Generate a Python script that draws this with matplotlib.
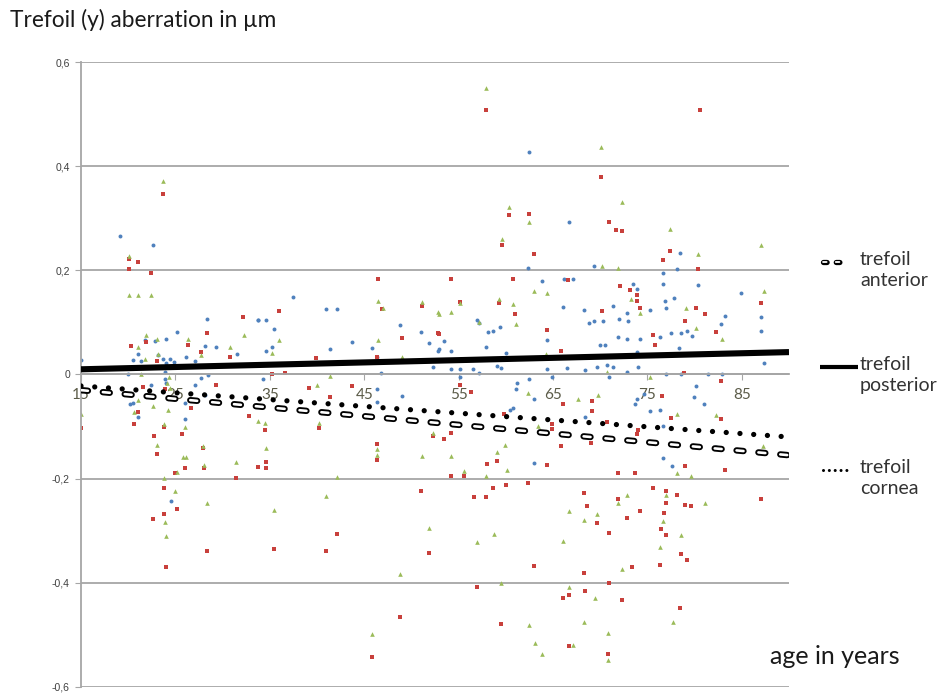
import matplotlib
matplotlib.use("Agg")
import matplotlib.pyplot as plt
import matplotlib.patheffects as pe
from matplotlib.lines import Line2D

# scatter data (age in years, trefoil in µm)
blue_age = [19.1, 22.6, 28.3, 33.8, 25.2, 21.8, 22.8, 24.0, 21.0, 23.2, 20.5, 21.4, 23.7, 24.4, 24.0, 24.8,
            28.1, 29.3, 31.5, 26.1, 27.1, 15.0, 20.0, 23.9, 23.9, 24.0, 22.4, 27.7, 28.5, 27.1, 20.2, 20.5,
            26.0, 28.1, 21.0, 26.0, 24.5,
            37.5, 41.0, 42.1, 33.8, 34.6, 35.4, 34.6, 35.2, 41.4, 43.7, 45.8, 46.4, 48.8, 51.0, 51.9, 52.9,
            52.3, 34.3, 46.8, 46.4, 49.0, 46.4,
            62.5, 66.7, 62.4, 69.3, 63.8, 66.2, 67.1, 66.1, 68.3, 56.9, 57.2, 58.1, 58.6, 59.4, 64.4, 68.8,
            69.3, 70.3, 71.4, 70.0, 70.5, 53.5, 54.2, 52.8, 57.9, 60.0, 54.2, 55.1, 56.5, 57.2, 59.1, 59.5,
            64.4, 66.5, 68.4, 69.7, 70.7, 71.4, 70.9, 55.1, 62.5, 64.9, 61.1, 61.2, 63.0, 60.4, 60.8, 68.4,
            63.0,
            78.5, 73.5, 76.7, 76.7, 78.1, 80.4, 73.9, 76.9, 77.8, 77.0, 83.2, 84.9, 87.0, 87.0, 75.3, 72.8,
            72.0, 72.9, 78.6, 79.2, 79.7, 82.8, 71.9, 72.8, 74.2, 76.3, 77.5, 78.3, 73.9, 87.4, 72.8, 74.0,
            77.0, 78.6, 81.4, 82.9, 80.2, 79.9, 81.0, 76.3, 75.3, 74.6, 73.9, 73.7, 76.7, 82.3, 76.7, 77.6]
blue_val = [0.266, 0.248, 0.107, 0.105, 0.082, 0.066, 0.064, 0.068, 0.039, 0.037, 0.028, 0.026, 0.03, 0.03,
            0.022, 0.024, 0.055, 0.053, 0.039, 0.034, 0.026, 0.028, 0.0, 0.005, -0.009, -0.017, -0.02,
            -0.007, -0.001, -0.02, -0.057, -0.055, -0.055, -0.039, -0.081, -0.086, -0.243,
            0.148, 0.126, 0.126, 0.104, 0.104, 0.088, 0.045, 0.053, 0.049, 0.062, 0.051, 0.033, 0.095,
            0.082, 0.06, 0.049, 0.015, -0.008, 0.003, -0.027, -0.041, -0.053,
            0.427, 0.293, 0.204, 0.209, 0.18, 0.184, 0.184, 0.129, 0.124, 0.105, 0.099, 0.082, 0.084,
            0.091, 0.067, 0.099, 0.103, 0.103, 0.132, 0.056, 0.056, 0.065, 0.046, 0.046, 0.052, 0.042,
            0.011, 0.011, 0.011, 0.002, 0.017, 0.013, 0.011, 0.013, 0.008, 0.015, 0.019, 0.015, -0.004,
            -0.004, -0.008, -0.004, -0.027, -0.017, -0.048, -0.068, -0.065, -0.082, -0.17,
            0.234, 0.173, 0.194, 0.173, 0.203, 0.171, 0.165, 0.142, 0.146, 0.127, 0.113, 0.156, 0.11,
            0.084, 0.123, 0.118, 0.106, 0.103, 0.08, 0.084, 0.074, 0.097, 0.072, 0.068, 0.068, 0.072,
            0.08, 0.051, 0.043, 0.023, 0.004, 0.015, 0.0, 0.0, 0.0, 0.0, -0.023, -0.043, -0.057, -0.068,
            -0.071, -0.037, -0.048, -0.057, -0.099, -0.139, -0.16, -0.175]

red_age = [23.7, 20.1, 21.0, 20.1, 22.4, 32.2, 28.3, 21.9, 26.3, 20.3, 23.0, 27.7, 30.8, 21.6, 23.9, 29.3,
           26.6, 21.0, 20.6, 32.8, 23.8, 25.7, 22.7, 23.1, 27.9, 28.0, 26.0, 31.4, 33.8, 25.0, 23.8, 25.2,
           22.6, 23.8, 28.3, 24.0, 15.0,
           46.5, 46.9, 36.0, 46.4, 49.0, 51.1, 52.9, 39.9, 35.2, 36.6, 39.1, 43.7, 41.4, 34.5, 40.2, 34.6,
           34.6, 33.8, 46.4, 46.4, 52.3, 51.0, 42.1, 35.4, 41.0, 51.9, 48.8, 45.8,
           57.9, 70.1, 60.3, 62.5, 70.9, 71.7, 59.6, 63.0, 54.2, 60.8, 66.6, 59.3, 55.1, 61.0, 70.2, 64.4,
           52.8, 65.9, 55.2, 56.3, 66.1, 69.1, 69.1, 59.8, 70.7, 64.9, 64.9, 53.5, 54.2, 65.8, 69.0, 58.0,
           59.1, 64.4, 54.2, 55.6, 58.6, 60.0, 62.3, 56.6, 57.9, 68.3, 68.6, 69.7, 70.9, 63.0, 68.3, 56.9,
           66.1, 66.7, 68.4, 70.9, 59.5, 66.7, 70.8,
           80.6, 72.3, 77.4, 76.7, 80.4, 72.1, 73.2, 73.9, 73.9, 80.1, 81.1, 87.0, 74.2, 79.0, 82.3, 75.6,
           75.8, 78.9, 82.8, 76.5, 82.8, 77.5, 73.9, 74.0, 79.0, 83.2, 71.9, 73.7, 87.0, 75.6, 77.0, 77.0,
           78.1, 79.0, 71.9, 74.2, 72.8, 79.6, 76.8, 76.4, 77.0, 78.6, 79.2, 73.4, 76.3, 72.3, 78.5]
red_val = [0.346, 0.222, 0.216, 0.202, 0.195, 0.11, 0.08, 0.062, 0.057, 0.055, 0.026, 0.043, 0.034, -0.024,
           -0.028, -0.02, -0.064, -0.072, -0.096, -0.08, -0.1, -0.114, -0.118, -0.152, -0.141, -0.18, -0.18,
           -0.199, -0.178, -0.189, -0.218, -0.258, -0.277, -0.268, -0.339, -0.37, -0.102,
           0.183, 0.125, 0.122, 0.033, 0.07, 0.131, 0.078, 0.031, 0.0, 0.003, -0.025, -0.023, -0.043,
           -0.106, -0.103, -0.168, -0.179, -0.178, -0.133, -0.165, -0.118, -0.224, -0.306, -0.335, -0.339,
           -0.342, -0.466, -0.543,
           0.507, 0.38, 0.306, 0.308, 0.293, 0.278, 0.249, 0.232, 0.184, 0.184, 0.181, 0.137, 0.139, 0.116,
           0.122, 0.085, 0.08, 0.046, -0.021, -0.034, -0.057, -0.051, -0.07, -0.075, -0.091, -0.105, -0.095,
           -0.124, -0.112, -0.137, -0.132, -0.171, -0.166, -0.173, -0.195, -0.195, -0.217, -0.213, -0.208,
           -0.236, -0.236, -0.228, -0.252, -0.285, -0.304, -0.367, -0.382, -0.408, -0.43, -0.424, -0.416,
           -0.401, -0.479, -0.522, -0.536,
           0.508, 0.276, 0.238, 0.22, 0.202, 0.17, 0.163, 0.152, 0.141, 0.128, 0.116, 0.137, 0.127, 0.103,
           0.081, 0.076, 0.057, 0.002, -0.013, -0.042, -0.086, -0.084, -0.114, -0.106, -0.175, -0.184, -0.19,
           -0.19, -0.24, -0.217, -0.224, -0.247, -0.232, -0.251, -0.24, -0.262, -0.276, -0.252, -0.266,
           -0.297, -0.308, -0.344, -0.357, -0.37, -0.365, -0.433, -0.449]

green_age = [23.7, 20.1, 20.1, 21.0, 22.4, 32.3, 21.9, 23.0, 26.3, 21.0, 23.2, 21.8, 27.7, 30.8, 21.4, 24.3,
             24.1, 24.4, 21.0, 22.6, 24.2, 20.6, 33.8, 26.0, 23.8, 23.1, 27.9, 28.0, 25.8, 26.1, 31.4, 25.2,
             23.8, 25.0, 28.3, 23.9, 24.0, 15.0,
             46.5, 47.0, 36.0, 35.2, 46.5, 49.0, 51.1, 52.9, 41.4, 40.0, 34.5, 40.2, 34.6, 46.4, 46.4, 51.1,
             52.3, 42.1, 41.0, 35.4, 51.9, 48.8, 45.8,
             57.9, 70.1, 60.3, 62.5, 59.6, 70.2, 63.0, 64.4, 59.3, 55.1, 54.2, 52.8, 60.8, 57.2, 61.1, 64.3,
             70.7, 62.4, 67.6, 69.8, 63.4, 54.2, 59.9, 59.1, 60.1, 55.6, 57.9, 66.7, 68.3, 69.7, 56.9, 58.7,
             66.1, 59.5, 66.7, 69.4, 62.5, 68.3, 63.1, 63.8, 67.1, 70.8, 70.8,
             72.3, 77.4, 80.4, 87.0, 71.9, 73.3, 79.1, 87.3, 74.2, 80.1, 82.9, 75.3, 78.1, 82.3, 87.2, 79.6,
             78.1, 77.0, 72.8, 71.9, 81.1, 76.7, 76.3, 78.6, 72.3, 77.7]
green_val = [0.371, 0.227, 0.153, 0.153, 0.153, 0.075, 0.076, 0.068, 0.068, 0.053, 0.04, 0.03, 0.038, 0.053,
             0.0, -0.005, -0.017, -0.026, -0.049, -0.06, -0.068, -0.072, -0.089, -0.1, -0.095, -0.136,
             -0.137, -0.174, -0.158, -0.158, -0.168, -0.187, -0.199, -0.223, -0.247, -0.283, -0.31, -0.076,
             0.142, 0.128, 0.066, 0.042, 0.066, 0.033, 0.14, 0.116, -0.003, -0.02, -0.093, -0.093, -0.141,
             -0.143, -0.154, -0.157, -0.113, -0.197, -0.233, -0.26, -0.294, -0.383, -0.498,
             0.551, 0.437, 0.322, 0.293, 0.261, 0.209, 0.161, 0.156, 0.144, 0.137, 0.12, 0.12, 0.135, 0.101,
             0.097, 0.04, 0.004, -0.036, -0.048, -0.04, -0.099, -0.156, -0.135, -0.148, -0.183, -0.186,
             -0.195, -0.262, -0.28, -0.268, -0.321, -0.306, -0.319, -0.401, -0.408, -0.43, -0.481, -0.475,
             -0.515, -0.536, -0.519, -0.496, -0.548,
             0.331, 0.279, 0.232, 0.249, 0.205, 0.144, 0.128, 0.16, 0.118, 0.089, 0.068, -0.004, -0.076,
             -0.078, -0.137, -0.194, -0.19, -0.232, -0.232, -0.247, -0.247, -0.281, -0.331, -0.308, -0.373,
             -0.475]

# linear trend lines (end points)
trend_age = [15, 90]
trend_anterior = [-0.030, -0.155]
trend_posterior = [0.010, 0.043]
trend_cornea = [-0.022, -0.120]

legend_labels = ["trefoil\nanterior", "trefoil\nposterior", "trefoil\ncornea"]

plt.rcParams['lines.scale_dashes'] = False
plt.rcParams['font.family'] = ['Lato', 'DejaVu Sans']

fig = plt.figure(figsize=(9.44, 6.97), dpi=100)
ax = fig.add_axes([81 / 944, 1 - 687 / 697, (789 - 81) / 944, (687 - 62) / 697])

grid_col = '#a6a6a6'
ax.scatter(blue_age, blue_val, s=8, marker='o', color='#4F81BD', linewidths=0, zorder=2)
ax.scatter(red_age, red_val, s=11, marker='s', color='#C8403C', linewidths=0, zorder=2)
ax.scatter(green_age, green_val, s=11, marker='^', color='#9BBB59', linewidths=0, zorder=2)

ant_dash = (5.0, 10.8)
corn_dash = (0.01, 9.9)
stroke = [pe.Stroke(linewidth=4.6, foreground='black'), pe.Normal()]
ant, = ax.plot(trend_age, trend_anterior, color='white', lw=1.9, dashes=ant_dash,
               dash_capstyle='round', path_effects=stroke, zorder=4)
post, = ax.plot(trend_age, trend_posterior, color='black', lw=4.4, solid_capstyle='butt', zorder=4)
corn, = ax.plot(trend_age, trend_cornea, color='black', lw=3.8, dashes=corn_dash,
                dash_capstyle='round', zorder=4)

ax.set_xlim(15, 90)
ax.set_ylim(-0.6, 0.6)
ax.set_xticks(range(15, 90, 10))
ax.set_yticks([-0.6, -0.4, -0.2, 0, 0.2, 0.4, 0.6])
ax.set_yticklabels(['-0,6', '-0,4', '-0,2', '0', '0,2', '0,4', '0,6'],
                   fontfamily='Liberation Sans', fontsize=7.5, color='#404040')
ax.grid(axis='y', color=grid_col, lw=1.3)
ax.set_axisbelow(True)

for s in ['top', 'right']:
    ax.spines[s].set_visible(False)
ax.spines['left'].set_color(grid_col)
ax.spines['left'].set_linewidth(1.3)
ax.spines['bottom'].set_position(('data', 0))
ax.spines['bottom'].set_color(grid_col)
ax.spines['bottom'].set_linewidth(1.3)
ax.tick_params(axis='y', length=4, color=grid_col, pad=4)
ax.tick_params(axis='x', length=4, color=grid_col, pad=6, labelsize=11, labelcolor='#5b5b48')

fig.text(10 / 944, 1 - 20 / 697, "Trefoil (y) aberration in µm", fontsize=16.3, color='#1a1a1a',
         ha='left', va='center')
fig.text(770 / 944, 1 - 657 / 697, "age in years", fontsize=18, color='#1a1a1a',
         ha='left', va='center')

# legend drawn by hand: sample line next to a two-line label
entries = [(ant, 262, 823, 846, (2.6, 6.6)), (post, 367, 820, 858, None),
           (corn, 470, 823, 849, (0.01, 4.2))]
for (h, yy, x0, x1, dsh), lab in zip(entries, legend_labels):
    ln = Line2D([x0 / 944, x1 / 944], [1 - yy / 697, 1 - yy / 697], transform=fig.transFigure,
                color=h.get_color(), lw=3.0, solid_capstyle='butt')
    if h is ant:
        ln.set_linewidth(1.3)
        ln.set_dashes(dsh)
        ln.set_dash_capstyle('round')
        ln.set_path_effects([pe.Stroke(linewidth=3.8, foreground='black'), pe.Normal()])
    elif h is corn:
        ln.set_linewidth(2.2)
        ln.set_dashes(dsh)
        ln.set_dash_capstyle('round')
    fig.add_artist(ln)
    fig.text(860 / 944, 1 - (yy - 11) / 697, lab, fontsize=14, color='#333333', ha='left', va='top',
             linespacing=1.3)

fig.savefig("out.png", dpi=100)
